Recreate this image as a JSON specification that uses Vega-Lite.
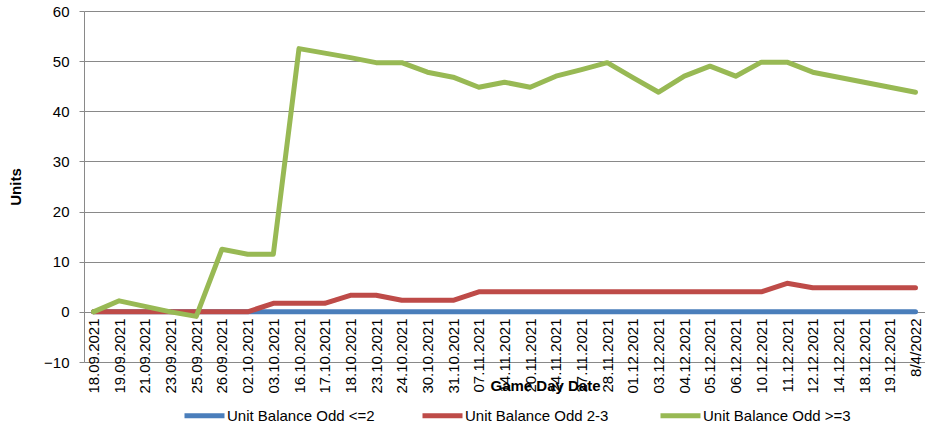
{
  "$schema": "https://vega.github.io/schema/vega-lite/v6.json",
  "width": 841,
  "height": 351,
  "autosize": {"type": "none"},
  "padding": {"left": 84, "top": 11, "right": 0, "bottom": 67},
  "config": {
    "view": {"stroke": null},
    "font": "Liberation Sans",
    "axis": {"labelFont": "Liberation Sans", "titleFont": "Liberation Sans", "labelColor": "#000000", "titleColor": "#000000"},
    "legend": {"labelFont": "Liberation Sans", "labelColor": "#000000"}
  },
  "data": {
    "values": [
      {"d": "18.09.2021", "s": "Unit Balance Odd <=2", "v": 0},
      {"d": "19.09.2021", "s": "Unit Balance Odd <=2", "v": 0},
      {"d": "21.09.2021", "s": "Unit Balance Odd <=2", "v": 0},
      {"d": "23.09.2021", "s": "Unit Balance Odd <=2", "v": 0},
      {"d": "25.09.2021", "s": "Unit Balance Odd <=2", "v": 0},
      {"d": "26.09.2021", "s": "Unit Balance Odd <=2", "v": 0},
      {"d": "02.10.2021", "s": "Unit Balance Odd <=2", "v": 0},
      {"d": "03.10.2021", "s": "Unit Balance Odd <=2", "v": 0},
      {"d": "16.10.2021", "s": "Unit Balance Odd <=2", "v": 0},
      {"d": "17.10.2021", "s": "Unit Balance Odd <=2", "v": 0},
      {"d": "18.10.2021", "s": "Unit Balance Odd <=2", "v": 0},
      {"d": "23.10.2021", "s": "Unit Balance Odd <=2", "v": 0},
      {"d": "24.10.2021", "s": "Unit Balance Odd <=2", "v": 0},
      {"d": "30.10.2021", "s": "Unit Balance Odd <=2", "v": 0},
      {"d": "31.10.2021", "s": "Unit Balance Odd <=2", "v": 0},
      {"d": "07.11.2021", "s": "Unit Balance Odd <=2", "v": 0},
      {"d": "14.11.2021", "s": "Unit Balance Odd <=2", "v": 0},
      {"d": "20.11.2021", "s": "Unit Balance Odd <=2", "v": 0},
      {"d": "24.11.2021", "s": "Unit Balance Odd <=2", "v": 0},
      {"d": "27.11.2021", "s": "Unit Balance Odd <=2", "v": 0},
      {"d": "28.11.2021", "s": "Unit Balance Odd <=2", "v": 0},
      {"d": "01.12.2021", "s": "Unit Balance Odd <=2", "v": 0},
      {"d": "03.12.2021", "s": "Unit Balance Odd <=2", "v": 0},
      {"d": "04.12.2021", "s": "Unit Balance Odd <=2", "v": 0},
      {"d": "05.12.2021", "s": "Unit Balance Odd <=2", "v": 0},
      {"d": "06.12.2021", "s": "Unit Balance Odd <=2", "v": 0},
      {"d": "10.12.2021", "s": "Unit Balance Odd <=2", "v": 0},
      {"d": "11.12.2021", "s": "Unit Balance Odd <=2", "v": 0},
      {"d": "12.12.2021", "s": "Unit Balance Odd <=2", "v": 0},
      {"d": "14.12.2021", "s": "Unit Balance Odd <=2", "v": 0},
      {"d": "18.12.2021", "s": "Unit Balance Odd <=2", "v": 0},
      {"d": "19.12.2021", "s": "Unit Balance Odd <=2", "v": 0},
      {"d": "8/4/2022", "s": "Unit Balance Odd <=2", "v": 0},
      {"d": "18.09.2021", "s": "Unit Balance Odd 2-3", "v": 0},
      {"d": "19.09.2021", "s": "Unit Balance Odd 2-3", "v": 0},
      {"d": "21.09.2021", "s": "Unit Balance Odd 2-3", "v": 0},
      {"d": "23.09.2021", "s": "Unit Balance Odd 2-3", "v": 0},
      {"d": "25.09.2021", "s": "Unit Balance Odd 2-3", "v": 0},
      {"d": "26.09.2021", "s": "Unit Balance Odd 2-3", "v": 0},
      {"d": "02.10.2021", "s": "Unit Balance Odd 2-3", "v": 0},
      {"d": "03.10.2021", "s": "Unit Balance Odd 2-3", "v": 1.7},
      {"d": "16.10.2021", "s": "Unit Balance Odd 2-3", "v": 1.7},
      {"d": "17.10.2021", "s": "Unit Balance Odd 2-3", "v": 1.7},
      {"d": "18.10.2021", "s": "Unit Balance Odd 2-3", "v": 3.3},
      {"d": "23.10.2021", "s": "Unit Balance Odd 2-3", "v": 3.3},
      {"d": "24.10.2021", "s": "Unit Balance Odd 2-3", "v": 2.3},
      {"d": "30.10.2021", "s": "Unit Balance Odd 2-3", "v": 2.3},
      {"d": "31.10.2021", "s": "Unit Balance Odd 2-3", "v": 2.3},
      {"d": "07.11.2021", "s": "Unit Balance Odd 2-3", "v": 4},
      {"d": "14.11.2021", "s": "Unit Balance Odd 2-3", "v": 4},
      {"d": "20.11.2021", "s": "Unit Balance Odd 2-3", "v": 4},
      {"d": "24.11.2021", "s": "Unit Balance Odd 2-3", "v": 4},
      {"d": "27.11.2021", "s": "Unit Balance Odd 2-3", "v": 4},
      {"d": "28.11.2021", "s": "Unit Balance Odd 2-3", "v": 4},
      {"d": "01.12.2021", "s": "Unit Balance Odd 2-3", "v": 4},
      {"d": "03.12.2021", "s": "Unit Balance Odd 2-3", "v": 4},
      {"d": "04.12.2021", "s": "Unit Balance Odd 2-3", "v": 4},
      {"d": "05.12.2021", "s": "Unit Balance Odd 2-3", "v": 4},
      {"d": "06.12.2021", "s": "Unit Balance Odd 2-3", "v": 4},
      {"d": "10.12.2021", "s": "Unit Balance Odd 2-3", "v": 4},
      {"d": "11.12.2021", "s": "Unit Balance Odd 2-3", "v": 5.7},
      {"d": "12.12.2021", "s": "Unit Balance Odd 2-3", "v": 4.8},
      {"d": "14.12.2021", "s": "Unit Balance Odd 2-3", "v": 4.8},
      {"d": "18.12.2021", "s": "Unit Balance Odd 2-3", "v": 4.8},
      {"d": "19.12.2021", "s": "Unit Balance Odd 2-3", "v": 4.8},
      {"d": "8/4/2022", "s": "Unit Balance Odd 2-3", "v": 4.8},
      {"d": "18.09.2021", "s": "Unit Balance Odd >=3", "v": 0},
      {"d": "19.09.2021", "s": "Unit Balance Odd >=3", "v": 2.2},
      {"d": "21.09.2021", "s": "Unit Balance Odd >=3", "v": 1.1},
      {"d": "23.09.2021", "s": "Unit Balance Odd >=3", "v": 0},
      {"d": "25.09.2021", "s": "Unit Balance Odd >=3", "v": -0.9},
      {"d": "26.09.2021", "s": "Unit Balance Odd >=3", "v": 12.5},
      {"d": "02.10.2021", "s": "Unit Balance Odd >=3", "v": 11.5},
      {"d": "03.10.2021", "s": "Unit Balance Odd >=3", "v": 11.5},
      {"d": "16.10.2021", "s": "Unit Balance Odd >=3", "v": 52.5},
      {"d": "17.10.2021", "s": "Unit Balance Odd >=3", "v": 51.6},
      {"d": "18.10.2021", "s": "Unit Balance Odd >=3", "v": 50.7},
      {"d": "23.10.2021", "s": "Unit Balance Odd >=3", "v": 49.7},
      {"d": "24.10.2021", "s": "Unit Balance Odd >=3", "v": 49.7},
      {"d": "30.10.2021", "s": "Unit Balance Odd >=3", "v": 47.8},
      {"d": "31.10.2021", "s": "Unit Balance Odd >=3", "v": 46.8},
      {"d": "07.11.2021", "s": "Unit Balance Odd >=3", "v": 44.8},
      {"d": "14.11.2021", "s": "Unit Balance Odd >=3", "v": 45.8},
      {"d": "20.11.2021", "s": "Unit Balance Odd >=3", "v": 44.8},
      {"d": "24.11.2021", "s": "Unit Balance Odd >=3", "v": 47},
      {"d": "27.11.2021", "s": "Unit Balance Odd >=3", "v": 48.3},
      {"d": "28.11.2021", "s": "Unit Balance Odd >=3", "v": 49.7},
      {"d": "01.12.2021", "s": "Unit Balance Odd >=3", "v": 46.7},
      {"d": "03.12.2021", "s": "Unit Balance Odd >=3", "v": 43.8},
      {"d": "04.12.2021", "s": "Unit Balance Odd >=3", "v": 47},
      {"d": "05.12.2021", "s": "Unit Balance Odd >=3", "v": 49},
      {"d": "06.12.2021", "s": "Unit Balance Odd >=3", "v": 47},
      {"d": "10.12.2021", "s": "Unit Balance Odd >=3", "v": 49.8},
      {"d": "11.12.2021", "s": "Unit Balance Odd >=3", "v": 49.8},
      {"d": "12.12.2021", "s": "Unit Balance Odd >=3", "v": 47.8},
      {"d": "14.12.2021", "s": "Unit Balance Odd >=3", "v": 46.8},
      {"d": "18.12.2021", "s": "Unit Balance Odd >=3", "v": 45.8},
      {"d": "19.12.2021", "s": "Unit Balance Odd >=3", "v": 44.8},
      {"d": "8/4/2022", "s": "Unit Balance Odd >=3", "v": 43.8}
    ]
  },
  "encoding": {
    "x": {
      "field": "d",
      "type": "ordinal",
      "sort": null,
      "scale": {"type": "point", "padding": 0.37},
      "axis": {
        "title": "Game Day Date",
        "titleFontSize": 15,
        "titleFontWeight": "bold",
        "titleX": 461,
        "titleY": 73,
        "titleBaseline": "middle",
        "labelAngle": -90,
        "labelFontSize": 15,
        "labelPadding": 6,
        "labelOverlap": false,
        "labelBound": false,
        "ticks": false,
        "grid": false,
        "offset": -50,
        "domainColor": "#898989",
        "domainWidth": 1
      }
    },
    "y": {
      "field": "v",
      "type": "quantitative",
      "scale": {"domain": [-10, 60], "nice": false, "zero": false},
      "axis": {
        "title": "Units",
        "titleFontSize": 15,
        "titleFontWeight": "bold",
        "titleX": -69,
        "titleBaseline": "middle",
        "values": [-10, 0, 10, 20, 30, 40, 50, 60],
        "labelFontSize": 15,
        "labelPadding": 10,
        "tickSize": 5,
        "tickColor": "#898989",
        "domainColor": "#898989",
        "grid": true,
        "gridColor": "#898989",
        "gridWidth": 1,
        "gridOpacity": 1
      }
    },
    "color": {
      "field": "s",
      "type": "nominal",
      "scale": {
        "domain": ["Unit Balance Odd <=2", "Unit Balance Odd 2-3", "Unit Balance Odd >=3"],
        "range": ["#4A7EBB", "#BE4B48", "#98B954"]
      },
      "legend": {
        "orient": "none",
        "legendX": 98,
        "legendY": 382,
        "direction": "horizontal",
        "title": null,
        "symbolType": "stroke",
        "symbolSize": 1600,
        "symbolStrokeWidth": 5,
        "labelFontSize": 15,
        "labelOffset": 0,
        "gridAlign": "all",
        "columnPadding": 37
      }
    }
  },
  "layer": [
    {
      "transform": [{"filter": {"field": "s", "equal": "Unit Balance Odd <=2"}}],
      "mark": {"type": "line", "strokeWidth": 5, "strokeCap": "round", "strokeJoin": "round"}
    },
    {
      "transform": [{"filter": {"field": "s", "equal": "Unit Balance Odd 2-3"}}],
      "mark": {"type": "line", "strokeWidth": 5, "strokeCap": "round", "strokeJoin": "round"}
    },
    {
      "transform": [{"filter": {"field": "s", "equal": "Unit Balance Odd >=3"}}],
      "mark": {"type": "line", "strokeWidth": 5, "strokeCap": "round", "strokeJoin": "round"}
    }
  ]
}
